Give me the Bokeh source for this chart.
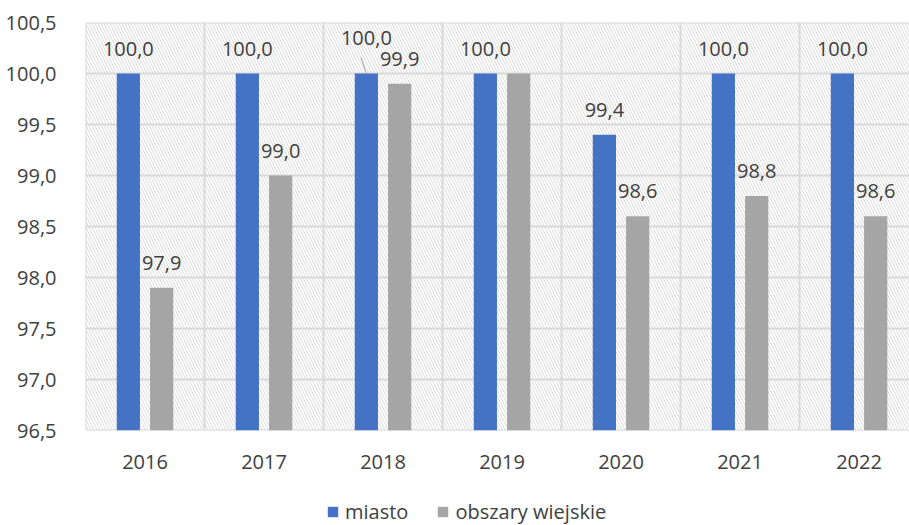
from bokeh.plotting import figure
from bokeh.layouts import column
from bokeh.models import (Range1d, FixedTicker, CustomJSTickFormatter, Legend,
                          LegendItem)
from bokeh.embed import file_html
from bokeh.resources import INLINE
from bokeh.core.properties import value

# ---- data ----
years = ["2016", "2017", "2018", "2019", "2020", "2021", "2022"]
miasto = [100.0, 100.0, 100.0, 100.0, 99.4, 100.0, 100.0]
wiejskie = [97.9, 99.0, 99.9, 100.0, 98.6, 98.8, 98.6]
y_ticks = [96.5, 97.0, 97.5, 98.0, 98.5, 99.0, 99.5, 100.0, 100.5]
series_names = ["miasto", "obszary wiejskie"]

# ---- style ----
FONT = "Open Sans"
FS = "20px"
TXT = "#404040"
BLUE = "#4472C4"
GRAY = "#A5A5A5"
GRID = "#D9D9D9"
W = 909
H_MAIN = 490
H_LEG = 35

Y0, Y1 = y_ticks[0], y_ticks[-1]
xs = list(range(len(years)))
OFF = 0.14
BW = 0.195
LAB = 0.245  # label distance above bar (data units)

p = figure(width=W, height=H_MAIN, output_backend="svg", toolbar_location=None,
           x_range=Range1d(xs[0] - 0.5, xs[-1] + 0.424), y_range=Range1d(Y0, Y1),
           min_border_left=85, min_border_right=0, min_border_top=22,
           min_border_bottom=60)
p.outline_line_color = None
p.xgrid.visible = False
p.ygrid.visible = False
p.background_fill_color = "white"
p.border_fill_color = "white"

# hatched plot background
left_edge = xs[0] - 0.5
right_edge = xs[-1] + 0.5
p.quad(left=[left_edge], right=[right_edge], bottom=[Y0], top=[Y1],
       fill_color="white", line_color=None, hatch_pattern="\\",
       hatch_color="#DCDCDC", hatch_scale=6, hatch_weight=1)

# grid lines (drawn above hatching, below bars)
p.segment(x0=[left_edge] * len(y_ticks), x1=[right_edge] * len(y_ticks),
          y0=y_ticks, y1=y_ticks, line_color=GRID, line_width=2)
bounds = [x - 0.5 for x in xs] + [xs[-1] + 0.5]
p.segment(x0=bounds, x1=bounds, y0=[Y0] * len(bounds), y1=[Y1] * len(bounds),
          line_color=GRID, line_width=2)

# bars
xb = [x - OFF for x in xs]
xg = [x + OFF for x in xs]
p.vbar(x=xb, top=miasto, bottom=Y0, width=BW, fill_color=BLUE, line_color=None)
p.vbar(x=xg, top=wiejskie, bottom=Y0, width=BW, fill_color=GRAY, line_color=None)

# data labels
def fmt(v):
    return f"{v:.1f}".replace(".", ",")

lx, ly, lt = [], [], []
for i, v in enumerate(miasto):
    extra = 0.1 if years[i] == "2018" else 0.0
    lx.append(xb[i]); ly.append(v + LAB + extra); lt.append(fmt(v))
for i, v in enumerate(wiejskie):
    if years[i] == "2019":
        continue  # hidden behind the other label in the original
    lx.append(xg[i]); ly.append(v + LAB); lt.append(fmt(v))

p.text(x=lx, y=ly, text=lt, text_font=value(FONT), text_font_size=FS,
       text_color=TXT, text_align="center", text_baseline="middle")

# leader line for 2018 miasto label
i18 = years.index("2018")
p.segment(x0=[xb[i18] - 0.046], y0=[miasto[i18] + 0.157],
          x1=[xb[i18]], y1=[miasto[i18]], line_color="#A6A6A6", line_width=1)

# axes
p.yaxis.ticker = FixedTicker(ticks=y_ticks)
p.yaxis.formatter = CustomJSTickFormatter(code="return tick.toFixed(1).replace('.', ',')")
p.xaxis.ticker = FixedTicker(ticks=xs)
p.xaxis.major_label_overrides = {x: y for x, y in zip(xs, years)}
for ax in (p.xaxis, p.yaxis):
    ax.axis_line_color = None
    ax.major_tick_line_color = None
    ax.minor_tick_line_color = None
    ax.major_label_text_font = FONT
    ax.major_label_text_font_size = FS
    ax.major_label_text_color = TXT
p.yaxis.major_label_standoff = 23
p.xaxis.major_label_standoff = 18

# ---- legend strip (separate figure below the chart) ----
leg_fig = figure(width=W, height=H_LEG, output_backend="svg", toolbar_location=None,
                 x_range=Range1d(0, 1), y_range=Range1d(0, 1),
                 min_border=0)
leg_fig.axis.visible = False
leg_fig.grid.visible = False
leg_fig.outline_line_color = None
leg_fig.background_fill_color = "white"
leg_fig.border_fill_color = "white"
# off-screen proxy bars that only supply the legend swatches
lb = leg_fig.vbar(x=[-10], top=[-10], bottom=-20, width=1, fill_color=BLUE, line_color=None)
lg = leg_fig.vbar(x=[-10], top=[-10], bottom=-20, width=1, fill_color=GRAY, line_color=None)
legend = Legend(items=[LegendItem(label=series_names[0], renderers=[lb]),
                       LegendItem(label=series_names[1], renderers=[lg])],
                orientation="horizontal", location=(241, 0),
                glyph_width=13, glyph_height=13, label_standoff=6, spacing=28,
                padding=0, margin=0, border_line_color=None,
                background_fill_alpha=0,
                label_text_font=FONT, label_text_font_size=FS,
                label_text_color=TXT)
leg_fig.add_layout(legend, "center")

layout = column(p, leg_fig, spacing=0)
open("out.html", "w").write(file_html(layout, INLINE))
